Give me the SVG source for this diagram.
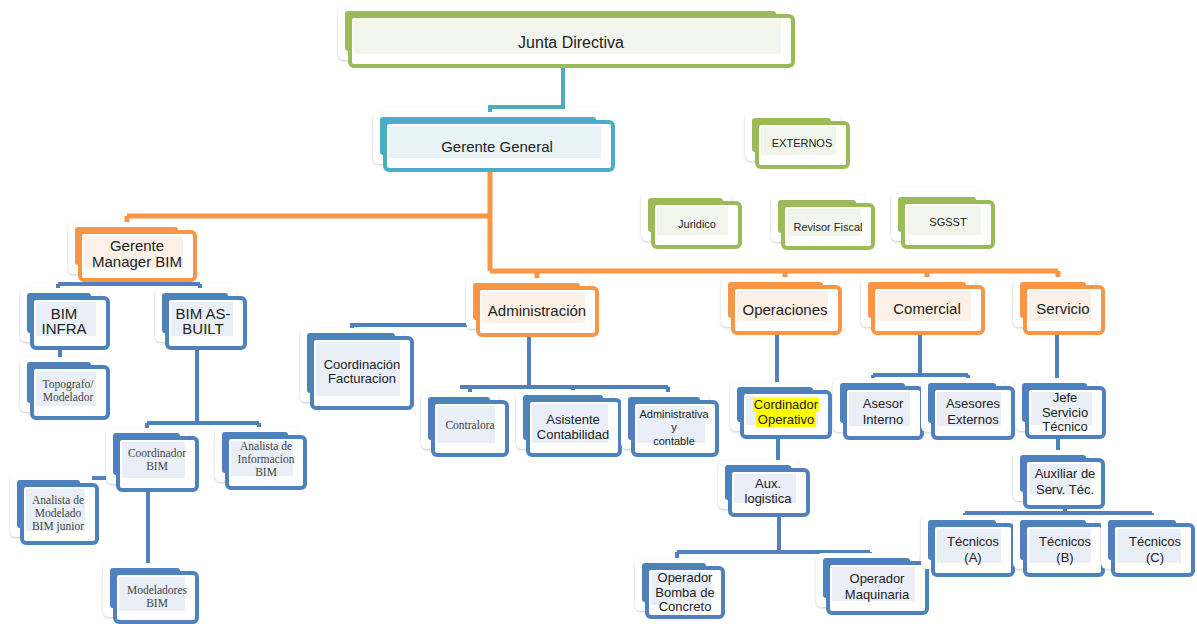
<svg xmlns="http://www.w3.org/2000/svg" width="1197" height="624" viewBox="0 0 1197 624">
<defs>
<filter id="sh" x="-10%" y="-10%" width="120%" height="130%">
<feDropShadow dx="0" dy="1" stdDeviation="1.2" flood-color="#888" flood-opacity="0.45"/>
</filter>
</defs>
<style>
.card{fill:#fff;filter:url(#sh)}
.fr{fill:#fff;stroke-width:4}
.g .bk{fill:#9bbb59}.g .fr{stroke:#9bbb59}.g .in{fill:#f2f5ec}
.t .bk{fill:#4bacc6}.t .fr{stroke:#4bacc6}.t .in{fill:#e8f3f7}
.o .bk{fill:#f79646}.o .fr{stroke:#f79646}.o .in{fill:#fdf1e7}
.b .bk{fill:#4f81bd}.b .fr{stroke:#4f81bd}.b .in{fill:#e9eef7}
text{font-family:"Liberation Sans",Arial,sans-serif;fill:#222;text-anchor:middle}
.s16{font-size:16px}.s15{font-size:15px}.s13{font-size:13px}.s11{font-size:11px}
.sf{font-family:"Liberation Serif","Times New Roman",serif;font-size:11.5px;fill:#444}
.c{fill:none;stroke-linecap:butt;stroke-linejoin:miter}
.ct{stroke:#4bacc6;stroke-width:4}
.co{stroke:#f79646;stroke-width:5}
.cb{stroke:#4f81bd;stroke-width:4}
.hl{fill:#ffff00}
</style>
<rect width="1197" height="624" fill="#fff"/>
<g id="connectors" class="c">
<path class="c ct" d="M563,66 V107 H490 V122"/>
<path class="c co" d="M490,170 V271 M127,216 H490 M127,216 V232 M490,271 H1058 M537,271 V288 M785,271 V287 M927,271 V287 M1058,271 V287"/>
<path class="c cb" d="M128,280 V284 M58,284 H200 M58,284 V298 M200,284 V298 M60,348 V367 M197,348 V423 M147,423 H259 M147,423 V438 M259,423 V437 M92,478 H118 M148,490 V573 M478,325 H352 V338 M529,335 V387 M460,387 H668 M470,387 V402 M573,387 V400 M668,387 V402 M777,333 V392 M778,437 V470 M779,515 V552 M677,552 H870 M677,552 V568 M870,552 V563 M920,333 V375 M873,375 H968 M873,375 V388 M968,375 V388 M1057,333 V388 M1058,437 V460 M1065,507 V513 M965,513 H1152 M965,513 V525 M1065,513 V525 M1152,513 V525"/>
</g>

<g id="junta" class="g">
<rect class="card" x="338" y="6" width="447" height="54" rx="6"/>
<rect class="bk" x="345" y="11" width="431" height="40" rx="3"/>
<rect class="fr" x="350" y="16" width="443" height="50" rx="4"/>
<rect class="in" x="354" y="20" width="427" height="34"/>
<text class="s16" x="571" y="48">Junta Directiva</text>
</g>
<g id="gerente-general" class="t">
<rect class="card" x="373" y="112" width="232" height="52" rx="6"/>
<rect class="bk" x="380" y="117" width="216" height="38" rx="3"/>
<rect class="fr" x="385" y="122" width="228" height="48" rx="4"/>
<rect class="in" x="389" y="126" width="212" height="32"/>
<text class="s15" x="497" y="152">Gerente General</text>
</g>
<g id="externos" class="g">
<rect class="card" x="745" y="113" width="95" height="48" rx="6"/>
<rect class="bk" x="752" y="118" width="79" height="34" rx="3"/>
<rect class="fr" x="757" y="123" width="91" height="44" rx="4"/>
<rect class="in" x="761" y="127" width="75" height="28"/>
<text class="s11" x="802" y="147">EXTERNOS</text>
</g>
<g id="juridico" class="g">
<rect class="card" x="641" y="193" width="91" height="48" rx="6"/>
<rect class="bk" x="648" y="198" width="75" height="34" rx="3"/>
<rect class="fr" x="653" y="203" width="87" height="44" rx="4"/>
<rect class="in" x="657" y="207" width="71" height="28"/>
<text class="s11" x="697" y="228">Juridico</text>
</g>
<g id="revisor-fiscal" class="g">
<rect class="card" x="771" y="195" width="94" height="47" rx="6"/>
<rect class="bk" x="778" y="200" width="78" height="33" rx="3"/>
<rect class="fr" x="783" y="205" width="90" height="43" rx="4"/>
<rect class="in" x="787" y="209" width="74" height="27"/>
<text class="s11" x="828" y="231">Revisor Fiscal</text>
</g>
<g id="sgsst" class="g">
<rect class="card" x="891" y="192" width="94" height="49" rx="6"/>
<rect class="bk" x="898" y="197" width="78" height="35" rx="3"/>
<rect class="fr" x="903" y="202" width="90" height="45" rx="4"/>
<rect class="in" x="907" y="206" width="74" height="29"/>
<text class="s11" x="948" y="226">SGSST</text>
</g>
<g id="gerente-manager-bim" class="o">
<rect class="card" x="68" y="222" width="119" height="52" rx="6"/>
<rect class="bk" x="75" y="227" width="103" height="38" rx="3"/>
<rect class="fr" x="80" y="232" width="115" height="48" rx="4"/>
<rect class="in" x="84" y="236" width="99" height="32"/>
<text class="s15" x="137" y="251">Gerente</text>
<text class="s15" x="137" y="267">Manager BIM</text>
</g>
<g id="bim-infra" class="b">
<rect class="card" x="20" y="288" width="80" height="54" rx="6"/>
<rect class="bk" x="27" y="293" width="64" height="40" rx="3"/>
<rect class="fr" x="32" y="298" width="76" height="50" rx="4"/>
<rect class="in" x="36" y="302" width="60" height="34"/>
<text class="s15" x="64" y="319">BIM</text>
<text class="s15" x="64" y="334">INFRA</text>
</g>
<g id="bim-as-built" class="b">
<rect class="card" x="155" y="288" width="82" height="54" rx="6"/>
<rect class="bk" x="162" y="293" width="66" height="40" rx="3"/>
<rect class="fr" x="167" y="298" width="78" height="50" rx="4"/>
<rect class="in" x="171" y="302" width="62" height="34"/>
<text class="s15" x="203" y="319">BIM AS-</text>
<text class="s15" x="203" y="334">BUILT</text>
</g>
<g id="topografo" class="b">
<rect class="card" x="20" y="357" width="80" height="55" rx="6"/>
<rect class="bk" x="27" y="362" width="64" height="41" rx="3"/>
<rect class="fr" x="32" y="367" width="76" height="51" rx="4"/>
<rect class="in" x="36" y="371" width="60" height="35"/>
<text class="sf" x="68" y="388">Topografo/</text>
<text class="sf" x="68" y="401">Modelador</text>
</g>
<g id="coordinador-bim" class="b">
<rect class="card" x="106" y="428" width="83" height="56" rx="6"/>
<rect class="bk" x="113" y="433" width="67" height="42" rx="3"/>
<rect class="fr" x="118" y="438" width="79" height="52" rx="4"/>
<rect class="in" x="122" y="442" width="63" height="36"/>
<text class="sf" x="157" y="457">Coordinador</text>
<text class="sf" x="157" y="470">BIM</text>
</g>
<g id="analista-informacion" class="b">
<rect class="card" x="215" y="427" width="82" height="55" rx="6"/>
<rect class="bk" x="222" y="432" width="66" height="41" rx="3"/>
<rect class="fr" x="227" y="437" width="78" height="51" rx="4"/>
<rect class="in" x="231" y="441" width="62" height="35"/>
<text class="sf" x="266" y="450">Analista de</text>
<text class="sf" x="266" y="463">Informacion</text>
<text class="sf" x="266" y="476">BIM</text>
</g>
<g id="analista-modelado" class="b">
<rect class="card" x="10" y="475" width="79" height="62" rx="6"/>
<rect class="bk" x="17" y="480" width="63" height="48" rx="3"/>
<rect class="fr" x="22" y="485" width="75" height="58" rx="4"/>
<rect class="in" x="26" y="489" width="59" height="42"/>
<text class="sf" x="58" y="504">Analista de</text>
<text class="sf" x="58" y="517">Modelado</text>
<text class="sf" x="58" y="530">BIM junior</text>
</g>
<g id="modeladores-bim" class="b">
<rect class="card" x="103" y="563" width="86" height="54" rx="6"/>
<rect class="bk" x="110" y="568" width="70" height="40" rx="3"/>
<rect class="fr" x="115" y="573" width="82" height="49" rx="4"/>
<rect class="in" x="119" y="577" width="66" height="34"/>
<text class="sf" x="157" y="594">Modeladores</text>
<text class="sf" x="157" y="607">BIM</text>
</g>
<g id="administracion" class="o">
<rect class="card" x="466" y="278" width="123" height="51" rx="6"/>
<rect class="bk" x="473" y="283" width="107" height="37" rx="3"/>
<rect class="fr" x="478" y="288" width="119" height="47" rx="4"/>
<rect class="in" x="482" y="292" width="103" height="31"/>
<text class="s15" x="537" y="316">Administración</text>
</g>
<g id="coordinacion-facturacion" class="b">
<rect class="card" x="300" y="328" width="104" height="74" rx="6"/>
<rect class="bk" x="307" y="333" width="88" height="60" rx="3"/>
<rect class="fr" x="312" y="338" width="100" height="70" rx="4"/>
<rect class="in" x="316" y="342" width="84" height="54"/>
<text class="s13" x="362" y="369">Coordinación</text>
<text class="s13" x="362" y="383">Facturacion</text>
</g>
<g id="contralora" class="b">
<rect class="card" x="421" y="392" width="78" height="57" rx="6"/>
<rect class="bk" x="428" y="397" width="62" height="43" rx="3"/>
<rect class="fr" x="433" y="402" width="74" height="53" rx="4"/>
<rect class="in" x="437" y="406" width="58" height="37"/>
<text class="sf" x="470" y="429">Contralora</text>
</g>
<g id="asistente-contabilidad" class="b">
<rect class="card" x="516" y="390" width="96" height="59" rx="6"/>
<rect class="bk" x="523" y="395" width="80" height="45" rx="3"/>
<rect class="fr" x="528" y="400" width="92" height="55" rx="4"/>
<rect class="in" x="532" y="404" width="76" height="39"/>
<text class="s13" x="573" y="424">Asistente</text>
<text class="s13" x="573" y="439">Contabilidad</text>
</g>
<g id="administrativa-contable" class="b">
<rect class="card" x="621" y="392" width="88" height="57" rx="6"/>
<rect class="bk" x="628" y="397" width="72" height="43" rx="3"/>
<rect class="fr" x="633" y="402" width="84" height="53" rx="4"/>
<rect class="in" x="637" y="406" width="68" height="37"/>
<text class="s11" x="674" y="418">Administrativa</text>
<text class="s11" x="674" y="431">y</text>
<text class="s11" x="674" y="445">contable</text>
</g>
<g id="operaciones" class="o">
<rect class="card" x="721" y="277" width="111" height="50" rx="6"/>
<rect class="bk" x="728" y="282" width="95" height="36" rx="3"/>
<rect class="fr" x="733" y="287" width="107" height="46" rx="4"/>
<rect class="in" x="737" y="291" width="91" height="30"/>
<text class="s15" x="785" y="315">Operaciones</text>
</g>
<g id="cordinador-operativo" class="b">
<rect class="card" x="730" y="382" width="92" height="49" rx="6"/>
<rect class="bk" x="737" y="387" width="76" height="35" rx="3"/>
<rect class="fr" x="742" y="392" width="88" height="45" rx="4"/>
<rect class="in" x="746" y="396" width="72" height="29"/>
<rect class="hl" x="753" y="398" width="66" height="14"/>
<rect class="hl" x="756" y="412" width="60" height="15"/>
<text class="s13" x="786" y="409">Cordinador</text>
<text class="s13" x="786" y="424">Operativo</text>
</g>
<g id="aux-logistica" class="b">
<rect class="card" x="718" y="460" width="82" height="49" rx="6"/>
<rect class="bk" x="725" y="465" width="66" height="35" rx="3"/>
<rect class="fr" x="730" y="470" width="78" height="45" rx="4"/>
<rect class="in" x="734" y="474" width="62" height="29"/>
<text class="s13" x="768" y="488">Aux.</text>
<text class="s13" x="768" y="503">logistica</text>
</g>
<g id="operador-bomba" class="b">
<rect class="card" x="635" y="558" width="80" height="53" rx="6"/>
<rect class="bk" x="642" y="563" width="64" height="39" rx="3"/>
<rect class="fr" x="647" y="568" width="76" height="49" rx="4"/>
<rect class="in" x="651" y="572" width="60" height="33"/>
<text class="s13" x="685" y="582">Operador</text>
<text class="s13" x="685" y="597">Bomba de</text>
<text class="s13" x="685" y="611">Concreto</text>
</g>
<g id="operador-maquinaria" class="b">
<rect class="card" x="816" y="553" width="103" height="54" rx="6"/>
<rect class="bk" x="823" y="558" width="87" height="40" rx="3"/>
<rect class="fr" x="828" y="563" width="99" height="50" rx="4"/>
<rect class="in" x="832" y="567" width="83" height="34"/>
<text class="s13" x="877" y="583">Operador</text>
<text class="s13" x="877" y="599">Maquinaria</text>
</g>
<g id="comercial" class="o">
<rect class="card" x="861" y="277" width="114" height="50" rx="6"/>
<rect class="bk" x="868" y="282" width="98" height="36" rx="3"/>
<rect class="fr" x="873" y="287" width="110" height="46" rx="4"/>
<rect class="in" x="877" y="291" width="94" height="30"/>
<text class="s15" x="927" y="314">Comercial</text>
</g>
<g id="servicio" class="o">
<rect class="card" x="1013" y="277" width="82" height="50" rx="6"/>
<rect class="bk" x="1020" y="282" width="66" height="36" rx="3"/>
<rect class="fr" x="1025" y="287" width="78" height="46" rx="4"/>
<rect class="in" x="1029" y="291" width="62" height="30"/>
<text class="s15" x="1063" y="314">Servicio</text>
</g>
<g id="asesor-interno" class="b">
<rect class="card" x="833" y="378" width="81" height="54" rx="6"/>
<rect class="bk" x="840" y="383" width="65" height="40" rx="3"/>
<rect class="fr" x="845" y="388" width="77" height="50" rx="4"/>
<rect class="in" x="849" y="392" width="61" height="34"/>
<text class="s13" x="883" y="408">Asesor</text>
<text class="s13" x="883" y="424">Interno</text>
</g>
<g id="asesores-externos" class="b">
<rect class="card" x="921" y="378" width="84" height="54" rx="6"/>
<rect class="bk" x="928" y="383" width="68" height="40" rx="3"/>
<rect class="fr" x="933" y="388" width="80" height="50" rx="4"/>
<rect class="in" x="937" y="392" width="64" height="34"/>
<text class="s13" x="973" y="408">Asesores</text>
<text class="s13" x="973" y="424">Externos</text>
</g>
<g id="jefe-servicio-tecnico" class="b">
<rect class="card" x="1015" y="378" width="81" height="53" rx="6"/>
<rect class="bk" x="1022" y="383" width="65" height="39" rx="3"/>
<rect class="fr" x="1027" y="388" width="77" height="49" rx="4"/>
<rect class="in" x="1031" y="392" width="61" height="33"/>
<text class="s13" x="1065" y="402">Jefe</text>
<text class="s13" x="1065" y="417">Servicio</text>
<text class="s13" x="1065" y="431">Técnico</text>
</g>
<g id="auxiliar-serv-tec" class="b">
<rect class="card" x="1013" y="450" width="82" height="51" rx="6"/>
<rect class="bk" x="1020" y="455" width="66" height="37" rx="3"/>
<rect class="fr" x="1025" y="460" width="78" height="47" rx="4"/>
<rect class="in" x="1029" y="464" width="62" height="31"/>
<text class="s13" x="1065" y="478">Auxiliar de</text>
<text class="s13" x="1065" y="494">Serv. Téc.</text>
</g>
<g id="tecnicos-a" class="b">
<rect class="card" x="921" y="515" width="84" height="54" rx="6"/>
<rect class="bk" x="928" y="520" width="68" height="40" rx="3"/>
<rect class="fr" x="933" y="525" width="80" height="50" rx="4"/>
<rect class="in" x="937" y="529" width="64" height="34"/>
<text class="s13" x="973" y="546">Técnicos</text>
<text class="s13" x="973" y="562">(A)</text>
</g>
<g id="tecnicos-b" class="b">
<rect class="card" x="1013" y="515" width="82" height="54" rx="6"/>
<rect class="bk" x="1020" y="520" width="66" height="40" rx="3"/>
<rect class="fr" x="1025" y="525" width="78" height="50" rx="4"/>
<rect class="in" x="1029" y="529" width="62" height="34"/>
<text class="s13" x="1065" y="546">Técnicos</text>
<text class="s13" x="1065" y="562">(B)</text>
</g>
<g id="tecnicos-c" class="b">
<rect class="card" x="1101" y="515" width="84" height="54" rx="6"/>
<rect class="bk" x="1108" y="520" width="68" height="40" rx="3"/>
<rect class="fr" x="1113" y="525" width="80" height="50" rx="4"/>
<rect class="in" x="1117" y="529" width="64" height="34"/>
<text class="s13" x="1155" y="546">Técnicos</text>
<text class="s13" x="1155" y="562">(C)</text>
</g>
</svg>
